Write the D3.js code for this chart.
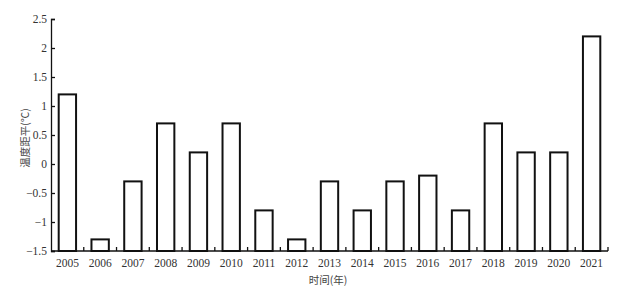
<!DOCTYPE html>
<html><head><meta charset="utf-8">
<script src="https://cdn.jsdelivr.net/npm/d3@7"></script>
<style>
html,body{margin:0;padding:0;background:#fff;}
svg{display:block;}
.serif{font-family:"Liberation Serif","Times New Roman",serif;}
.cjk{font-family:"Noto Sans CJK SC",sans-serif;}
</style>
</head><body>
<svg id="chart" width="620" height="293"></svg>
<script>
const years = ["2005","2006","2007","2008","2009","2010","2011","2012","2013","2014","2015","2016","2017","2018","2019","2020","2021"];
const anomalies = [1.2,-1.3,-0.3,0.7,0.2,0.7,-0.8,-1.3,-0.3,-0.8,-0.3,-0.2,-0.8,0.7,0.2,0.2,2.2];
const yTicks = [-1.5,-1,-0.5,0,0.5,1,1.5,2,2.5];
const yLabel = "温度距平(℃)";
const xLabel = "时间(年)";

const svg = d3.select("#chart");
const mLeft = 51, mRight = 608, mTop = 19, mBottom = 251;

const x = d3.scaleBand().domain(years).range([mLeft, mRight]).paddingInner(0.47).paddingOuter(0.235);
const xb = d3.scaleBand().domain(years).range([mLeft, mRight]);
const y = d3.scaleLinear().domain([-1.5, 2.5]).range([mBottom, mTop]);

svg.append("g").selectAll("rect").data(years).join("rect")
  .attr("x", d => x(d))
  .attr("width", x.bandwidth())
  .attr("y", (d,i) => y(anomalies[i]))
  .attr("height", (d,i) => y(-1.5) - y(anomalies[i]))
  .attr("fill", "#fff").attr("stroke", "#111").attr("stroke-width", 2);

const fmt = v => (v < 0 ? "\u2212" : "") + Math.abs(v);
const ya = svg.append("g").attr("transform", `translate(${mLeft},0)`)
  .call(d3.axisRight(y).tickValues(yTicks).tickSize(4).tickFormat(""));
ya.select(".domain").attr("stroke", "#111").attr("stroke-width", 1.3);
ya.selectAll(".tick line").attr("stroke", "#111").attr("stroke-width", 1.3);
svg.append("g").attr("class","serif").selectAll("text").data(yTicks).join("text")
  .attr("x", mLeft - 4).attr("y", d => y(d)).attr("dy", "0.35em")
  .attr("text-anchor", "end").attr("font-size", 11.5).attr("fill", "#333")
  .text(fmt);

const xa = svg.append("g").attr("transform", `translate(0,${mBottom})`);
xa.append("line").attr("x1", mLeft).attr("x2", mRight).attr("stroke", "#111").attr("stroke-width", 1.3);
xa.selectAll("line.tk").data(years).join("line").attr("class","tk")
  .attr("x1", d => xb(d) + xb.bandwidth()).attr("x2", d => xb(d) + xb.bandwidth())
  .attr("y1", 0).attr("y2", -4).attr("stroke", "#111").attr("stroke-width", 1.3);
xa.append("g").attr("class","serif").selectAll("text").data(years).join("text")
  .attr("x", d => xb(d) + xb.bandwidth()/2).attr("y", 16)
  .attr("text-anchor", "middle").attr("font-size", 11.5).attr("fill", "#333")
  .text(d => d);

svg.append("text").attr("class","cjk").attr("transform", `translate(25,${(mTop+mBottom)/2 + 3}) rotate(-90)`)
  .attr("text-anchor", "middle").attr("dy", "0.35em").attr("font-size", 10.5).attr("fill", "#444")
  .text(yLabel);
svg.append("text").attr("class","cjk").attr("x", 328).attr("y", 284)
  .attr("text-anchor", "middle").attr("font-size", 10.5).attr("fill", "#444")
  .text(xLabel);
</script>
</body></html>
